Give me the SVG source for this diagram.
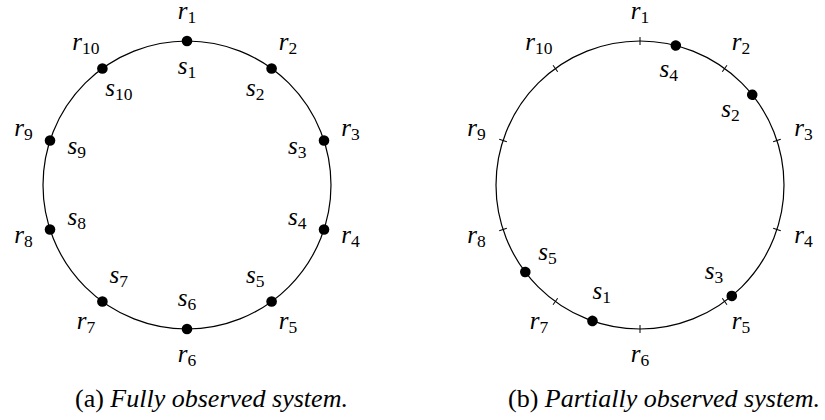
<svg xmlns="http://www.w3.org/2000/svg" width="825" height="420" viewBox="0 0 825 420">
<style>
  .ring { fill: none; stroke: #000; stroke-width: 1.2; }
  .tick { stroke: #000; stroke-width: 1; }
  .dot { fill: #000; }
  .lbl { font-style: italic; font-size: 25px; fill: #000; text-anchor: middle; }
  .sub { font-style: normal; font-size: 17.5px; }
  .cap { font-size: 26px; fill: #000; }
  .it { font-style: italic; }
</style>
<rect width="825" height="420" fill="#fff"/>

<g font-family="Liberation Serif, Times New Roman, serif">
<!-- (a) Fully observed system -->
<g id="ringA"><circle class="ring" cx="187" cy="185" r="144"/></g>
<g id="a-dots">
  <g id="a-n1"><circle class="dot" cx="187" cy="41" r="5.3"/><text class="lbl" x="187" y="18.5">r<tspan class="sub" dy="4">1</tspan></text><text class="lbl" x="187" y="73.5">s<tspan class="sub" dy="4">1</tspan></text></g>
  <g id="a-n2"><circle class="dot" cx="271.6" cy="68.5" r="5.3"/><text class="lbl" x="288.1" y="50.4">r<tspan class="sub" dy="4">2</tspan></text><text class="lbl" x="255.2" y="95.7">s<tspan class="sub" dy="4">2</tspan></text></g>
  <g id="a-n3"><circle class="dot" cx="324" cy="140.5" r="5.3"/><text class="lbl" x="350.6" y="136.4">r<tspan class="sub" dy="4">3</tspan></text><text class="lbl" x="297.3" y="153.7">s<tspan class="sub" dy="4">3</tspan></text></g>
  <g id="a-n4"><circle class="dot" cx="324" cy="229.5" r="5.3"/><text class="lbl" x="350.6" y="242.6">r<tspan class="sub" dy="4">4</tspan></text><text class="lbl" x="297.3" y="225.3">s<tspan class="sub" dy="4">4</tspan></text></g>
  <g id="a-n5"><circle class="dot" cx="271.6" cy="301.5" r="5.3"/><text class="lbl" x="288.1" y="328.6">r<tspan class="sub" dy="4">5</tspan></text><text class="lbl" x="255.2" y="283.3">s<tspan class="sub" dy="4">5</tspan></text></g>
  <g id="a-n6"><circle class="dot" cx="187" cy="329" r="5.3"/><text class="lbl" x="187" y="362">r<tspan class="sub" dy="4">6</tspan></text><text class="lbl" x="187" y="305.5">s<tspan class="sub" dy="4">6</tspan></text></g>
  <g id="a-n7"><circle class="dot" cx="102.4" cy="301.5" r="5.3"/><text class="lbl" x="85.9" y="328.6">r<tspan class="sub" dy="4">7</tspan></text><text class="lbl" x="118.8" y="283.3">s<tspan class="sub" dy="4">7</tspan></text></g>
  <g id="a-n8"><circle class="dot" cx="50" cy="229.5" r="5.3"/><text class="lbl" x="23.4" y="242.6">r<tspan class="sub" dy="4">8</tspan></text><text class="lbl" x="76.7" y="225.3">s<tspan class="sub" dy="4">8</tspan></text></g>
  <g id="a-n9"><circle class="dot" cx="50" cy="140.5" r="5.3"/><text class="lbl" x="23.4" y="136.4">r<tspan class="sub" dy="4">9</tspan></text><text class="lbl" x="76.7" y="153.7">s<tspan class="sub" dy="4">9</tspan></text></g>
  <g id="a-n10"><circle class="dot" cx="102.4" cy="68.5" r="5.3"/><text class="lbl" x="85.9" y="50.4">r<tspan class="sub" dy="4">10</tspan></text><text class="lbl" x="118.8" y="95.7">s<tspan class="sub" dy="4">10</tspan></text></g>
</g>
<text class="cap" x="75" y="407">(a) <tspan class="it">Fully observed system.</tspan></text>

<!-- (b) Partially observed system -->
<g id="ringB"><circle class="ring" cx="640" cy="185" r="144"/></g>
<g id="b-ticks">
  <g id="b-r1"><line class="tick" x1="640" y1="37" x2="640" y2="45"/><text class="lbl" x="640" y="18.5">r<tspan class="sub" dy="4">1</tspan></text></g>
  <g id="b-r2"><line class="tick" x1="640" y1="37" x2="640" y2="45" transform="rotate(36 640 185)"/><text class="lbl" x="741.1" y="50.4">r<tspan class="sub" dy="4">2</tspan></text></g>
  <g id="b-r3"><line class="tick" x1="640" y1="37" x2="640" y2="45" transform="rotate(72 640 185)"/><text class="lbl" x="803.6" y="136.4">r<tspan class="sub" dy="4">3</tspan></text></g>
  <g id="b-r4"><line class="tick" x1="640" y1="37" x2="640" y2="45" transform="rotate(108 640 185)"/><text class="lbl" x="803.6" y="242.6">r<tspan class="sub" dy="4">4</tspan></text></g>
  <g id="b-r5"><line class="tick" x1="640" y1="37" x2="640" y2="45" transform="rotate(144 640 185)"/><text class="lbl" x="741.1" y="328.6">r<tspan class="sub" dy="4">5</tspan></text></g>
  <g id="b-r6"><line class="tick" x1="640" y1="37" x2="640" y2="45" transform="rotate(180 640 185)"/><text class="lbl" x="640" y="362">r<tspan class="sub" dy="4">6</tspan></text></g>
  <g id="b-r7"><line class="tick" x1="640" y1="37" x2="640" y2="45" transform="rotate(216 640 185)"/><text class="lbl" x="538.9" y="328.6">r<tspan class="sub" dy="4">7</tspan></text></g>
  <g id="b-r8"><line class="tick" x1="640" y1="37" x2="640" y2="45" transform="rotate(252 640 185)"/><text class="lbl" x="476.4" y="242.6">r<tspan class="sub" dy="4">8</tspan></text></g>
  <g id="b-r9"><line class="tick" x1="640" y1="37" x2="640" y2="45" transform="rotate(288 640 185)"/><text class="lbl" x="476.4" y="136.4">r<tspan class="sub" dy="4">9</tspan></text></g>
  <g id="b-r10"><line class="tick" x1="640" y1="37" x2="640" y2="45" transform="rotate(324 640 185)"/><text class="lbl" x="538.9" y="50.4">r<tspan class="sub" dy="4">10</tspan></text></g>
</g>
<g id="b-dots">
  <g id="b-s1"><circle class="dot" cx="640" cy="41" r="5.3" transform="rotate(199.3 640 185)"/><text class="lbl" x="601.7" y="299">s<tspan class="sub" dy="4">1</tspan></text></g>
  <g id="b-s2"><circle class="dot" cx="640" cy="41" r="5.3" transform="rotate(51.2 640 185)"/><text class="lbl" x="730.4" y="116.8">s<tspan class="sub" dy="4">2</tspan></text></g>
  <g id="b-s3"><circle class="dot" cx="640" cy="41" r="5.3" transform="rotate(140.4 640 185)"/><text class="lbl" x="713.9" y="278.9">s<tspan class="sub" dy="4">3</tspan></text></g>
  <g id="b-s4"><circle class="dot" cx="640" cy="41" r="5.3" transform="rotate(14.4 640 185)"/><text class="lbl" x="668.8" y="77.1">s<tspan class="sub" dy="4">4</tspan></text></g>
  <g id="b-s5"><circle class="dot" cx="640" cy="41" r="5.3" transform="rotate(232.8 640 185)"/><text class="lbl" x="547.6" y="259.6">s<tspan class="sub" dy="4">5</tspan></text></g>
</g>
<text class="cap" x="508" y="407">(b) <tspan class="it">Partially observed system.</tspan></text>
</g>
</svg>
